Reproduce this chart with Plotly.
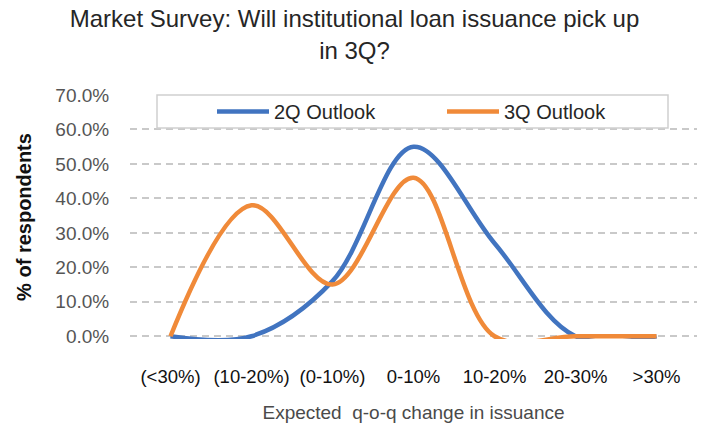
import plotly.graph_objects as go

categories = ["(<30%)", "(10-20%)", "(0-10%)", "0-10%", "10-20%", "20-30%", ">30%"]
outlook_2q = [0, 0, 16, 55, 27, 0, 0]
outlook_3q = [0, 38, 15, 46, 0, 0, 0]
y_ticks = [0, 10, 20, 30, 40, 50, 60, 70]
y_tick_labels = [f"{v:.1f}%" for v in y_ticks]

FONT = "Liberation Sans, Arial, sans-serif"
BLUE = "#4174c0"
ORANGE = "#f08a39"

fig = go.Figure()
fig.add_trace(go.Scatter(x=categories, y=outlook_2q, name="2Q Outlook", mode="lines",
                         line=dict(color=BLUE, width=4.5, shape="spline", smoothing=1.0)))
fig.add_trace(go.Scatter(x=categories, y=outlook_3q, name="3Q Outlook", mode="lines",
                         line=dict(color=ORANGE, width=4.5, shape="spline", smoothing=1.0)))

# legend frame
fig.add_shape(type="rect", xref="paper", yref="paper",
              x0=(157 - 130) / 567, x1=(668 - 130) / 567,
              y0=(338.75 - 128) / 243.75, y1=(338.75 - 95) / 243.75,
              line=dict(color="#cfcfcf", width=1.5), fillcolor="white", layer="above")

fig.update_layout(
    width=709, height=427,
    margin=dict(l=130, r=12, t=95, b=88, autoexpand=False),
    paper_bgcolor="white", plot_bgcolor="white",
    font=dict(family=FONT, color="#404040"),
    title=dict(text="Market Survey: Will institutional loan issuance pick up<br>in 3Q?",
               x=0.5, xanchor="center", xref="container",
               y=0.936, yanchor="top", yref="container",
               font=dict(size=24, color="#262626", family=FONT)),
    showlegend=True,
    legend=dict(orientation="h", x=(212 - 130) / 567, xanchor="left",
                y=(338.75 - 111.5) / 243.75, yanchor="middle",
                bgcolor="rgba(0,0,0,0)", borderwidth=0,
                font=dict(size=20, color="#262626", family=FONT),
                entrywidth=163, itemwidth=52),
    xaxis=dict(type="category", categoryorder="array", categoryarray=categories,
               range=[-0.5, 6.5], showgrid=False, zeroline=False, showline=False,
               automargin=False,
               ticks="outside", ticklen=21, tickcolor="rgba(0,0,0,0)", tickangle=0,
               tickfont=dict(size=18.5, color="#111111", family=FONT),
               title=dict(text="Expected  q-o-q change in issuance", standoff=19,
                          font=dict(size=19, color="#4a4a4a", family=FONT))),
    yaxis=dict(range=[-0.8, 70], tickvals=y_ticks, ticktext=y_tick_labels,
               showgrid=True, gridcolor="#c9c9c9", gridwidth=1.5, griddash="7px,5px",
               zeroline=False, showline=False, automargin=False,
               ticks="outside", ticklen=16, tickcolor="rgba(0,0,0,0)",
               tickfont=dict(size=19, color="#555555", family=FONT),
               title=dict(text="<b>% of respondents</b>", standoff=18,
                          font=dict(size=20, color="#111111", family=FONT))),
)

fig.write_html("out.html")
